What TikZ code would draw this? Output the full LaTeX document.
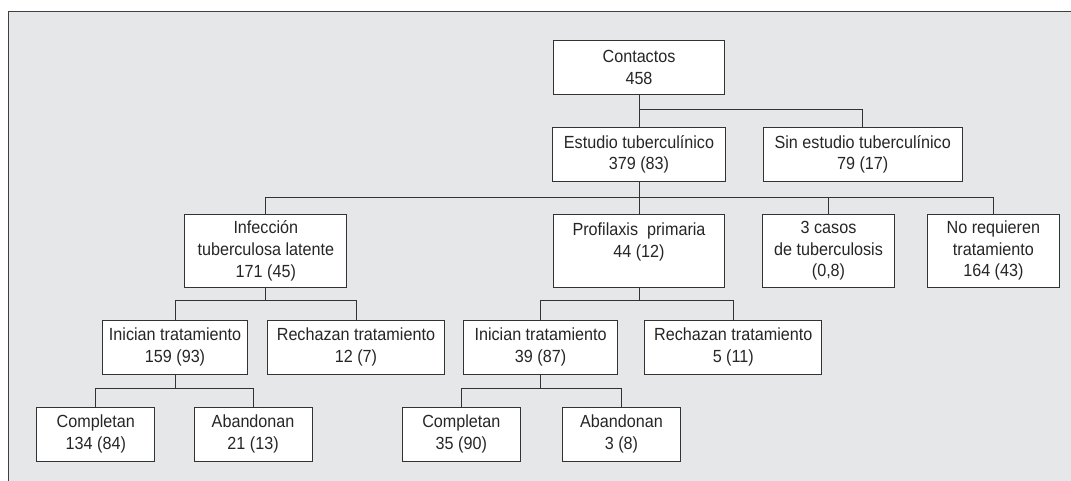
\documentclass[tikz,border=0pt]{standalone}
\usepackage{fontspec}
\setmainfont{Liberation Sans}[FakeStretch=0.92]
\usepackage{xcolor}
\usepackage{tikz}
\usetikzlibrary{positioning}
\definecolor{fondo}{HTML}{E6E7E8}

\begin{document}
\begin{tikzpicture}[x=0.025cm,y=-0.025cm,
		caja/.style={draw=black!80, line width=0.6pt, fill=white, align=center, inner xsep=2pt, inner ysep=2pt, minimum height=1.35cm, font=\fontsize{12.5pt}{15.4pt}\selectfont, text=black!85},
		alta/.style={caja, minimum height=1.825cm},
		linea/.style={draw=black!80, line width=0.6pt}]
		\path[use as bounding box, clip] (0,0) rectangle (1071,480);
		\draw[draw=black!75, line width=0.6pt, fill=fondo] (8.3,11.4) rectangle (1090,500);
		
		\node[caja, minimum width=4.28cm] (cont) at (639,67.5) {Contactos\\458};
		\node[caja, minimum width=4.33cm, below=0.8cm of cont] (est) {Estudio tuberculínico\\379 (83)};
		\node[caja, minimum width=4.97cm, right=0.92cm of est] (sinest) {Sin estudio tuberculínico\\79 (17)};
		
		\node[alta, minimum width=4.28cm, below=0.8cm of est] (prof) {Profilaxis\ \ primaria\\44 (12)\\~};
		\node[alta, minimum width=4.05cm, left=5.14cm of prof] (inf) {Infección\\tuberculosa latente\\171 (45)};
		\node[alta, minimum width=3.29cm, right=0.93cm of prof] (casos) {3 casos\\de tuberculosis\\(0,8)};
		\node[alta, minimum width=3.29cm, right=0.81cm of casos] (noreq) {No requieren\\tratamiento\\164 (43)};
		
		\node[caja, minimum width=3.64cm, below=0.8cm of inf, xshift=-2.27cm] (inic1) {Inician tratamiento\\159 (93)};
		\node[caja, minimum width=4.42cm, right=0.47cm of inic1] (rech1) {Rechazan tratamiento\\12 (7)};
		\node[caja, minimum width=3.85cm, below=0.8cm of prof, xshift=-2.46cm] (inic2) {Inician tratamiento\\39 (87)};
		\node[caja, minimum width=4.42cm, right=0.66cm of inic2] (rech2) {Rechazan tratamiento\\5 (11)};
		
		\node[caja, minimum width=2.95cm, below=0.8cm of inic1, xshift=-1.98cm] (comp1) {Completan\\134 (84)};
		\node[caja, minimum width=2.95cm, right=0.96cm of comp1] (aban1) {Abandonan\\21 (13)};
		\node[caja, minimum width=2.95cm, below=0.8cm of inic2, xshift=-1.98cm] (comp2) {Completan\\35 (90)};
		\node[caja, minimum width=2.95cm, right=1.03cm of comp2] (aban2) {Abandonan\\3 (8)};
		
		\draw[linea] (cont) -- (est);
		\draw[linea] (cont.south) ++(0,14) coordinate (r1) -| (sinest.north);
		
		\draw[linea] (est) -- (prof);
		\path (est.south) ++(0,16) coordinate (r2);
		\draw[linea] (inf.north) |- (r2) -| (noreq.north);
		\draw[linea] (r2) -| (casos.north);
		
		\draw[linea] (inf.south) -- ++(0,13) coordinate (r3);
		\draw[linea] (inic1.north) |- (r3) -| (rech1.north);
		\draw[linea] (prof.south) -- ++(0,13) coordinate (r4);
		\draw[linea] (inic2.north) |- (r4) -| (rech2.north);
		
		\draw[linea] (inic1.south) -- ++(0,14) coordinate (r5);
		\draw[linea] (comp1.north) |- (r5) -| (aban1.north);
		\draw[linea] (inic2.south) -- ++(0,14) coordinate (r6);
		\draw[linea] (comp2.north) |- (r6) -| (aban2.north);
	\end{tikzpicture}
\end{document}
